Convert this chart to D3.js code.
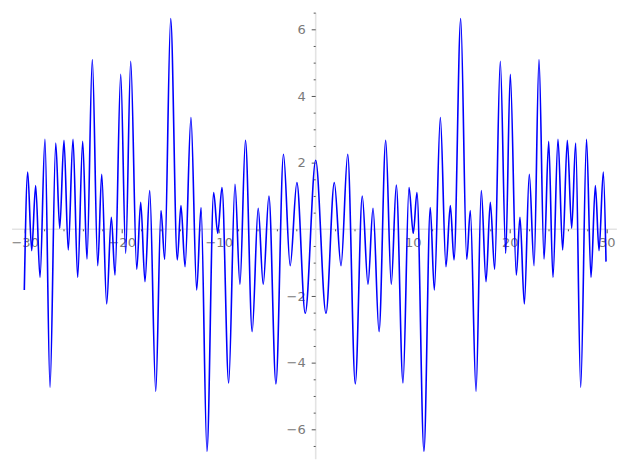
<!DOCTYPE html>
<html>
<head>
<meta charset="utf-8">
<script src="https://cdn.jsdelivr.net/npm/d3@7"></script>
<style>
  body { margin: 0; background: #fff; }
  svg { display: block; }
  .tick text { font-family: "DejaVu Sans", sans-serif; font-size: 13px; fill: #7a7a7a; }
  .tick line { stroke: #555; }
</style>
</head>
<body>
<svg id="chart" width="627" height="470"></svg>
<script>
// local maxima / minima of the curve
const xs = [
  -30.04, -29.69, -29.28, -28.87, -28.42, -27.91, -27.39, -26.80, -26.39, -25.95,
  -25.51, -25.02, -24.54, -24.02, -23.58, -23.03, -22.47, -22.06, -21.55, -21.07,
  -20.69, -20.10, -19.59, -19.07, -18.45, -18.04, -17.60, -17.11, -16.49, -15.95,
  -15.57, -14.95, -14.27, -13.89, -13.47, -12.86, -12.27, -11.82, -11.21, -10.52,
  -10.10, -9.66, -8.97, -8.32, -7.81, -7.24, -6.55, -5.93, -5.41, -4.82,
  -4.10, -3.32, -2.63, -1.94, -1.08, 0.00, 1.06, 1.92, 2.61, 3.30,
  4.08, 4.80, 5.39, 5.91, 6.53, 7.22, 7.79, 8.31, 9.00, 9.62,
  10.06, 10.44, 11.16, 11.81, 12.23, 12.85, 13.43, 13.88, 14.26, 14.95,
  15.57, 15.94, 16.53, 17.07, 17.56, 18.00, 18.45, 19.03, 19.59, 20.06,
  20.68, 21.06, 21.51, 22.02, 22.51, 23.02, 23.54, 24.02, 24.46, 24.98,
  25.46, 25.94, 26.39, 26.80, 27.32, 27.92, 28.38, 28.83, 29.21, 29.65,
  29.93
];
const ys = [
  -1.82, 1.72, -0.64, 1.31, -1.44, 2.70, -4.74, 2.59, 0.03, 2.67,
  -0.62, 2.70, -1.44, 2.64, -0.89, 5.09, -1.09, 1.65, -2.24, 0.36,
  -1.37, 4.65, -0.72, 5.04, -1.20, 0.81, -1.57, 1.16, -4.86, 0.56,
  -0.90, 6.32, -0.92, 0.71, -1.12, 3.35, -1.82, 0.65, -6.66, 1.10,
  -0.12, 1.25, -4.61, 1.35, -1.65, 2.67, -3.07, 0.63, -1.65, 1.00,
  -4.64, 2.25, -1.09, 1.40, -2.52, 2.07, -2.52, 1.40, -1.09, 2.25,
  -4.64, 1.00, -1.65, 0.63, -3.07, 2.67, -1.65, 1.33, -4.61, 1.25,
  -0.12, 1.10, -6.66, 0.65, -1.82, 3.35, -1.12, 0.71, -0.92, 6.32,
  -0.90, 0.56, -4.86, 1.16, -1.57, 0.81, -1.20, 5.04, -0.72, 4.65,
  -1.37, 0.36, -2.24, 1.65, -1.09, 5.09, -0.89, 2.64, -1.44, 2.70,
  -0.62, 2.67, 0.03, 2.59, -4.74, 2.70, -1.44, 1.31, -0.64, 1.72,
  -0.97
];
const xMajor = [-30, -20, -10, 10, 20, 30];
const yMajor = [-6, -4, -2, 2, 4, 6];
const xLim = [-31.3, 31.05];
const yLim = [-6.9, 6.5];

const svg = d3.select('#chart');

const x = d3.scaleLinear().domain([-30, 30]).range([24.7, 606.7]);
const y = d3.scaleLinear().domain([-6, 6]).range([429.3, 29.3]);

const xMinor = d3.range(-30, 31, 2).filter(v => v % 10 !== 0);
const yMinor = d3.range(-6.5, 6.6, 0.5).filter(v => v % 2 !== 0);

// axis lines through the origin
svg.append('line')
  .attr('x1', x(xLim[0])).attr('x2', x(xLim[1]))
  .attr('y1', y(0)).attr('y2', y(0))
  .attr('stroke', '#e3e3e3').attr('stroke-width', 1.6);
svg.append('line')
  .attr('x1', x(0)).attr('x2', x(0))
  .attr('y1', y(yLim[1])).attr('y2', y(yLim[0]))
  .attr('stroke', '#e3e3e3').attr('stroke-width', 1.6);

// minor ticks
svg.append('g')
  .attr('transform', `translate(0,${y(0)})`)
  .call(d3.axisBottom(x).tickValues(xMinor).tickSize(2).tickFormat(''))
  .call(g => g.select('.domain').remove());
svg.append('g')
  .attr('transform', `translate(${x(0)},0)`)
  .call(d3.axisLeft(y).tickValues(yMinor).tickSize(2).tickFormat(''))
  .call(g => g.select('.domain').remove());

// major ticks + labels
svg.append('g')
  .attr('transform', `translate(0,${y(0)})`)
  .call(d3.axisBottom(x).tickValues(xMajor).tickSize(4).tickPadding(4).tickFormat(d3.format('d')))
  .call(g => g.select('.domain').remove());
svg.append('g')
  .attr('transform', `translate(${x(0)},0)`)
  .call(d3.axisLeft(y).tickValues(yMajor).tickSize(4).tickPadding(6).tickFormat(d3.format('d')))
  .call(g => g.select('.domain').remove());

const pts = xs.map((v, i) => [v, ys[i]]);
const line = d3.line()
  .x(d => x(d[0]))
  .y(d => y(d[1]))
  .curve(d3.curveMonotoneX);

svg.append('path')
  .datum(pts)
  .attr('d', line)
  .attr('fill', 'none')
  .attr('stroke', '#0000ff')
  .attr('stroke-width', 1.6);
</script>
</body>
</html>
